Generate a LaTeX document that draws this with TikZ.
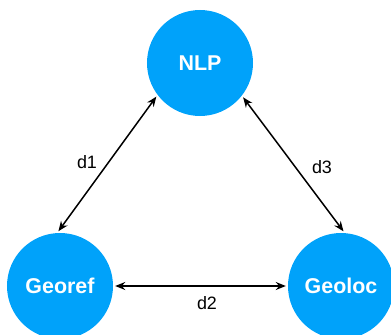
\documentclass[tikz,border=0pt]{standalone}
\usepackage{fontspec}
\setmainfont{Liberation Sans}
\usetikzlibrary{arrows.meta}

\definecolor{knotblue}{RGB}{0,162,250}

\begin{document}
\begin{tikzpicture}[
    x=1bp, y=1bp,
    modul/.style={circle, fill=knotblue, minimum size=106bp, inner sep=0pt,
        text=white, font=\fontsize{21.5}{24}\selectfont\bfseries},
    dist/.style={{Stealth[length=10bp,width=8bp]}-{Stealth[length=10bp,width=8bp]},
        line width=1.5bp, black, shorten <=2bp, shorten >=2bp},
    distlabel/.style={font=\fontsize{18}{21}\selectfont, inner sep=0pt}
]

% --- Rahmen 391 x 335 ---
\useasboundingbox (0,0) rectangle (391,335);
\clip (0,0) rectangle (391,335);

% --- Module ---
\node[modul] (nlp)    at (200,272) {NLP};
\node[modul] (georef) at (60,49)   {Georef};
\node[modul] (geoloc) at (341,49)  {Geoloc};

% --- Distanzen ---
\draw[dist] (georef.93) -- (nlp.217);
\draw[dist] (nlp.322)   -- (geoloc.86);
\draw[dist] (georef.east) -- (geoloc.west);

% --- Beschriftungen ---
\node[distlabel] (lab1) at (87,173) {d1};
\node[distlabel] (lab3) at (322,168) {d3};
\node[distlabel] (lab2) at (207,32)  {d2};

\end{tikzpicture}
\end{document}
